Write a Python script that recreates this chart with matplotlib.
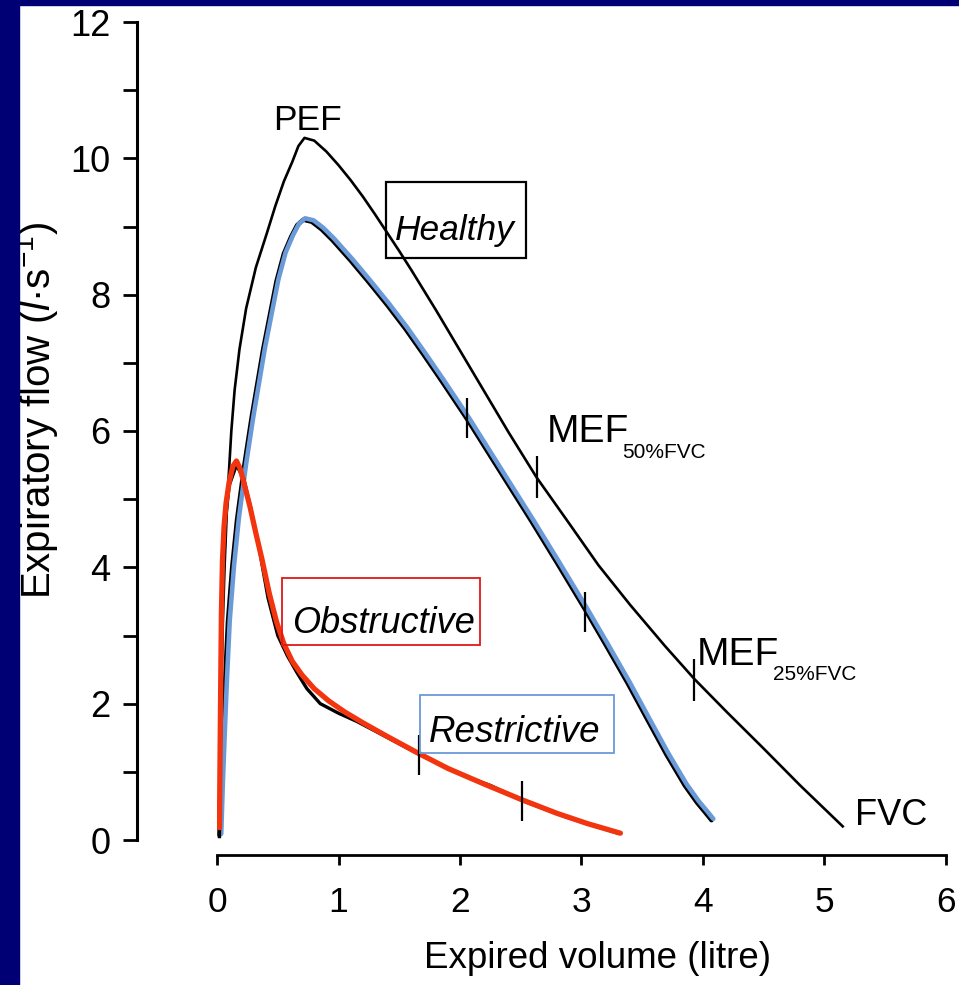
import matplotlib
matplotlib.use("Agg")
import matplotlib.pyplot as plt
from matplotlib import font_manager
from matplotlib.patches import Rectangle
import matplotlib.transforms as mtransforms

# ---------------- data ----------------
healthy_x = [0.020, 0.024, 0.032, 0.045, 0.062, 0.085, 0.118, 0.145, 0.185, 0.24, 0.32, 0.41,
             0.48, 0.55, 0.62, 0.67, 0.72, 0.80, 0.90, 1.00, 1.10, 1.20, 1.30, 1.40, 1.50,
             1.60, 1.70, 1.80, 1.90, 2.00, 2.20, 2.40, 2.63, 2.90, 3.14, 3.40, 3.69, 3.93,
             4.20, 4.50, 4.80, 5.15]
healthy_y = [0.10, 1.00, 2.00, 3.00, 4.00, 5.00, 6.00, 6.60, 7.20, 7.80, 8.40, 8.90,
             9.30, 9.66, 9.95, 10.18, 10.30, 10.26, 10.10, 9.90, 9.68, 9.44, 9.18, 8.91, 8.64,
             8.36, 8.07, 7.78, 7.48, 7.18, 6.58, 5.98, 5.32, 4.64, 4.03, 3.45, 2.84, 2.36,
             1.87, 1.34, 0.80, 0.20]

restr_x = [0.020, 0.033, 0.048, 0.066, 0.090, 0.125, 0.165, 0.225, 0.285, 0.38, 0.49, 0.55,
           0.61, 0.66, 0.71, 0.78, 0.86, 0.95, 1.10, 1.25, 1.40, 1.55, 1.70, 1.85, 2.06,
           2.30, 2.59, 2.80, 3.03, 3.20, 3.38, 3.55, 3.70, 3.85, 3.95, 4.02, 4.07]
restr_y = [0.07, 0.80, 1.50, 2.30, 3.20, 4.00, 4.70, 5.50, 6.20, 7.20, 8.20, 8.60,
           8.85, 9.02, 9.10, 9.07, 8.96, 8.80, 8.50, 8.18, 7.85, 7.50, 7.12, 6.73, 6.17,
           5.49, 4.67, 4.06, 3.38, 2.86, 2.30, 1.74, 1.25, 0.80, 0.55, 0.40, 0.29]

obstr_x = [0.020, 0.024, 0.030, 0.036, 0.045, 0.058, 0.075, 0.10, 0.13, 0.16, 0.19, 0.22,
           0.27, 0.32, 0.37, 0.43, 0.49, 0.55, 0.62, 0.70, 0.80, 0.92, 1.05, 1.20, 1.40,
           1.66, 1.90, 2.20, 2.51, 2.80, 3.05, 3.32]
obstr_y = [0.18, 1.00, 2.20, 3.30, 4.10, 4.60, 4.95, 5.25, 5.48, 5.56, 5.45, 5.25,
           4.90, 4.50, 4.12, 3.62, 3.20, 2.88, 2.62, 2.42, 2.22, 2.04, 1.88, 1.72, 1.52,
           1.27, 1.05, 0.82, 0.59, 0.39, 0.24, 0.10]

obstr_bk_x = [0.020, 0.030, 0.045, 0.07, 0.10, 0.16, 0.22, 0.28, 0.35, 0.42, 0.50, 0.58,
              0.66, 0.74, 0.85, 1.00, 1.15, 1.30, 1.66, 2.05, 2.25, 2.51, 2.87, 3.30]
obstr_bk_y = [0.05, 2.00, 3.60, 4.70, 5.20, 5.50, 5.30, 4.85, 4.25, 3.55, 3.00, 2.70,
              2.45, 2.22, 2.00, 1.86, 1.74, 1.60, 1.26, 0.93, 0.80, 0.58, 0.34, 0.10]

# MEF markers (50% and 25% FVC) on each curve
healthy_mef_x = [2.63, 3.93]
healthy_mef_y = [5.32, 2.34]
restr_mef_x = [2.06, 3.03]
restr_mef_y = [6.19, 3.35]
obstr_mef_x = [1.66, 2.51]
obstr_mef_y = [1.24, 0.57]

x_ticks = [0, 1, 2, 3, 4, 5, 6]
y_ticks = [0, 2, 4, 6, 8, 10, 12]
y_minor = [1, 3, 5, 7, 9, 11]

# ---------------- fonts ----------------
names = {f.name for f in font_manager.fontManager.ttflist}
fam = "Liberation Sans Narrow" if "Liberation Sans Narrow" in names else "Liberation Sans"
plt.rcParams["font.family"] = [fam, "DejaVu Sans"]
plt.rcParams["mathtext.fontset"] = "custom"
plt.rcParams["mathtext.rm"] = fam
plt.rcParams["mathtext.it"] = fam + ":italic"

W, H = 959, 985
fig = plt.figure(figsize=(W / 100, H / 100), dpi=100)
fig.patch.set_facecolor("white")

X0, X6 = 217, 946
Y0, Y12 = 840, 22
ax = fig.add_axes([X0 / W, (H - Y0) / H, (X6 - X0) / W, (Y0 - Y12) / H])
ax.set_xlim(0, 6)
ax.set_ylim(0, 12)
ax.patch.set_alpha(0)

for s in ["top", "right"]:
    ax.spines[s].set_visible(False)
ax.spines["left"].set_position(("outward", 80 * 0.72))
ax.spines["bottom"].set_position(("outward", 15 * 0.72))
ax.spines["left"].set_bounds(0, 12)
ax.spines["bottom"].set_bounds(0, 6)
ax.spines["left"].set_linewidth(2.2)
ax.spines["bottom"].set_linewidth(2.0)

ax.set_xticks(x_ticks)
ax.set_yticks(y_ticks)
ax.set_yticks(y_minor, minor=True)
ax.tick_params(axis="y", which="both", direction="out", length=10, width=2.0,
               labelsize=26, pad=9)
ax.tick_params(axis="x", which="both", direction="out", length=7, width=2.0,
               labelsize=25.5, pad=15)

# restrictive: black trace with blue overlay
ax.plot(restr_x, restr_y, color="black", lw=3.2, solid_capstyle="round", zorder=3)
blue_tr = mtransforms.offset_copy(ax.transData, fig=fig, x=1.3, y=1.0, units="points")
ax.plot(restr_x, restr_y, color="#6a9bd8", lw=3.3, transform=blue_tr,
        solid_capstyle="round", zorder=4)
ax.plot(restr_mef_x, restr_mef_y, ls="none", marker="|", ms=29, mew=1.6,
        color="black", zorder=5)

# obstructive: black trace with red overlay
ax.plot(obstr_bk_x, obstr_bk_y, color="black", lw=2.4, zorder=5)
ax.plot(obstr_x, obstr_y, color="#f2350f", lw=3.8, solid_capstyle="round",
        solid_joinstyle="round", zorder=6)
ax.plot(obstr_mef_x, obstr_mef_y, ls="none", marker="|", ms=29, mew=1.6,
        color="black", zorder=7)

# healthy
ax.plot(healthy_x, healthy_y, color="black", lw=1.9, solid_joinstyle="round", zorder=3)
ax.plot(healthy_mef_x, healthy_mef_y, ls="none", marker="|", ms=30, mew=1.6,
        color="black", zorder=4)

# ---------------- labels ----------------
def px2d(px, py):
    return (px - X0) / ((X6 - X0) / 6), (Y0 - py) / ((Y0 - Y12) / 12)

def ptext(px, py, s, **kw):
    x, y = px2d(px, py)
    ax.text(x, y, s, clip_on=False, **kw)

ptext(308, 130, "PEF", fontsize=25.5, ha="center", va="baseline")
ptext(547, 442, "MEF", fontsize=28, ha="left", va="baseline")
ptext(622, 458, "50%FVC", fontsize=15, ha="left", va="baseline")
ptext(697, 665, "MEF", fontsize=28, ha="left", va="baseline")
ptext(773, 680, "25%FVC", fontsize=15, ha="left", va="baseline")
ptext(855, 825, "FVC", fontsize=26, ha="left", va="baseline")

def box(px0, py0, px1, py1, color, lw):
    x0, y1 = px2d(px0, py0)
    x1, y0 = px2d(px1, py1)
    ax.add_patch(Rectangle((x0, y0), x1 - x0, y1 - y0, fill=False,
                           edgecolor=color, lw=lw, zorder=8, clip_on=False))

box(386, 182, 526, 258, "black", 1.6)
ptext(455, 240, "Healthy", fontsize=25.5, style="italic", ha="center", va="baseline", zorder=9)
box(282, 578, 480, 645, "#e01818", 1.3)
ptext(383, 633, "Obstructive", fontsize=26, style="italic", ha="center", va="baseline", zorder=9)
box(420, 695, 614, 753, "#6a9bd8", 1.3)
ptext(515, 742, "Restrictive", fontsize=26.5, style="italic", ha="center", va="baseline", zorder=9)

fig.text(597 / W, (H - 958) / H, "Expired volume (litre)", fontsize=26.5,
         ha="center", va="center")
fig.text(37 / W, (H - 410) / H, r"Expiratory flow ($l$·s$^{-1}$)", fontsize=29,
         rotation=90, ha="center", va="center")

# dark blue frame
fig.add_artist(Rectangle((0, 0), 19 / W, 1, transform=fig.transFigure,
                         color="#000074", zorder=20))
fig.add_artist(Rectangle((0, 1 - 5 / H), 1, 5 / H, transform=fig.transFigure,
                         color="#000074", zorder=20))

fig.savefig("out.png", dpi=100)
